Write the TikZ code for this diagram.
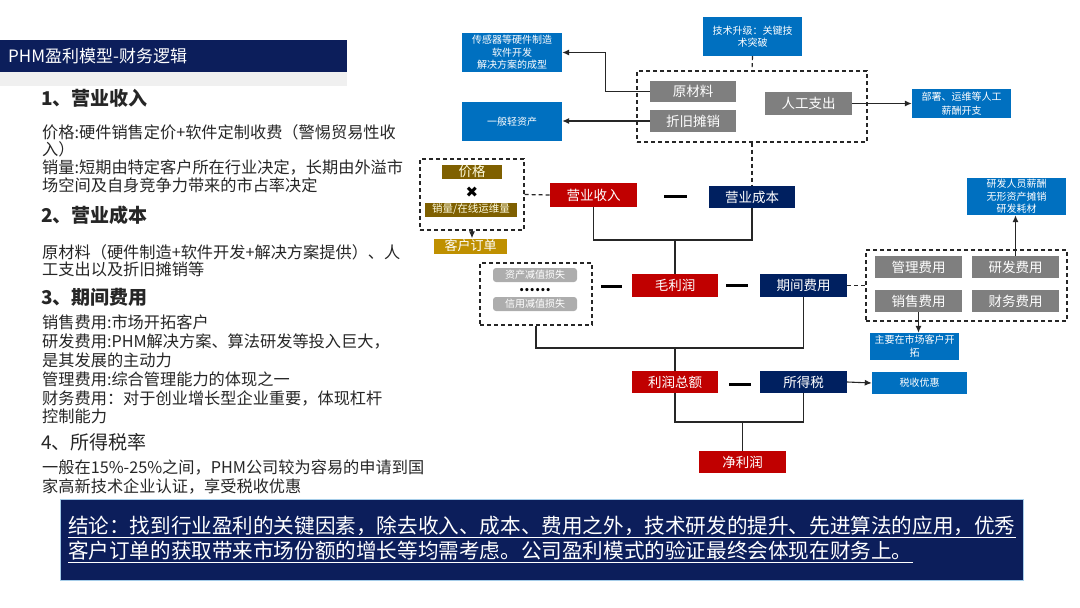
\documentclass[tikz,border=0pt]{standalone}
\usepackage{fontspec}
\setmainfont{Noto Sans CJK SC}
\newfontfamily\dejavu{DejaVu Sans}
\usetikzlibrary{arrows.meta}
\definecolor{navy}{HTML}{002060}
\definecolor{deepnavy}{HTML}{0C1E5B}
\definecolor{profit}{HTML}{C00000}
\definecolor{costgray}{HTML}{7F7F7F}
\definecolor{note}{HTML}{0070C0}
\definecolor{pricebrown}{HTML}{7F6000}
\definecolor{gold}{HTML}{BF9000}
\definecolor{lossgray}{HTML}{ADADAD}
\definecolor{ink}{HTML}{262626}
\newcommand{\fsz}[2]{\fontsize{#1}{#2}\selectfont}
\tikzset{
    box/.style={minimum width=87pt, minimum height=22pt, inner sep=0pt, text=white, font=\fsz{13.5}{16}}, % coloured boxes
    redbox/.style={box, fill=profit},
    navybox/.style={box, fill=navy},
    graybox/.style={box, fill=costgray},
    notebox/.style={fill=note, text=white, inner sep=0pt, align=center, font=\fsz{10}{12.5}},
    groupbox/.style={draw=ink, dashed, dash pattern=on 4pt off 3pt, line width=1.2pt},
    link/.style={draw=black!85, line width=1.1pt},
    arrow/.style={link, -{Latex[length=7pt, width=6pt]}},
    minus/.style={line width=3pt},
    heading/.style={anchor=west, inner sep=0pt, text=ink, font=\fsz{19}{22}\bfseries},
    body/.style={anchor=north west, inner sep=0pt, text=ink, align=left},
}
\begin{document}
\begin{tikzpicture}[x=1pt, y=-1pt]
\useasboundingbox (0,0) rectangle (1080,608);

    % --- Title bar ---
    \fill[gray!12] (0,72) rectangle (347,86);
    \node[fill=deepnavy, minimum width=347pt, minimum height=32pt, inner sep=0pt] (titlebar) at (173.5,56) {};
    \node[anchor=west, text=white, font=\fsz{17}{20}, inner sep=0pt] (title) at (8,56) {PHM盈利模型-财务逻辑};

    % --- Left column text ---
    \node[heading] (h1) at (41,98) {1、营业收入};
    \node[body, font=\fsz{16.2}{17.8}] (p1) at (42,124) {价格:硬件销售定价+软件定制收费（警惕贸易性收\\入）\\销量:短期由特定客户所在行业决定，长期由外溢市\\场空间及自身竞争力带来的市占率决定};
    \node[heading] (h2) at (41,215) {2、营业成本};
    \node[body, font=\fsz{16.2}{17}] (p2) at (42,244) {原材料（硬件制造+软件开发+解决方案提供）、人\\工支出以及折旧摊销等};
    \node[heading] (h3) at (41,297) {3、期间费用};
    \node[body, font=\fsz{16.2}{18.8}] (p3) at (42,315) {销售费用:市场开拓客户\\研发费用:PHM解决方案、算法研发等投入巨大，\\是其发展的主动力\\管理费用:综合管理能力的体现之一\\财务费用：对于创业增长型企业重要，体现杠杆\\控制能力};
    \node[heading, font=\fsz{19}{22}] (h4) at (41,442) {4、所得税率};
    \node[body, font=\fsz{16.2}{19}] (p4) at (42,460) {一般在15\%-25\%之间，PHM公司较为容易的申请到国\\家高新技术企业认证，享受税收优惠};

    % --- Dashed groups ---
    \node[groupbox, minimum width=230pt, minimum height=71pt] (costgrp) at (752,106.5) {};
    \node[groupbox, minimum width=104pt, minimum height=71pt] (pricegrp) at (472,194.5) {};
    \node[groupbox, minimum width=112pt, minimum height=62pt] (lossgrp) at (536,294) {};
    \node[groupbox, minimum width=201pt, minimum height=71pt] (expgrp) at (966.5,285.5) {};

    % --- Cost side (top) ---
    \node[notebox, minimum width=99pt, minimum height=39pt] (tech) at (752.5,36.5) {技术升级：关键技\\术突破};
    \node[notebox, minimum width=100pt, minimum height=39pt] (sensor) at (512,52.5) {传感器等硬件制造\\软件开发\\解决方案的成型};
    \node[notebox, minimum width=100pt, minimum height=39pt] (light) at (512,121.5) {一般轻资产};
    \node[graybox, minimum width=86pt, minimum height=21pt] (raw) at (693,91.5) {原材料};
    \node[graybox, minimum width=86pt] (depr) at (693,121) {折旧摊销};
    \node[graybox, minimum height=23pt] (wage) at (808.5,103.5) {人工支出};
    \node[notebox, minimum width=99pt, minimum height=29pt, font=\fsz{10}{13.5}] (labor) at (961.5,103.5) {部署、运维等人工\\薪酬开支};

    % --- Revenue side ---
    \node[box, fill=pricebrown, text=white!88!yellow, minimum width=60pt, minimum height=14pt] (price) at (472,171.5) {价格};
    \node[inner sep=0pt, font=\dejavu\fsz{15}{15}] (times) at (472,192) {✖};
    \node[box, fill=pricebrown, text=white!88!yellow, minimum width=92pt, minimum height=14pt, font=\fsz{10.5}{12}] (volume) at (471,209.5) {销量/在线运维量};
    \node[box, fill=gold, minimum width=73pt, minimum height=15pt, font=\fsz{13}{15}] (order) at (470.5,246) {客户订单};

    % --- Main chain ---
    \node[redbox, minimum height=24pt] (revenue) at (593.5,195) {营业收入};
    \node[navybox, minimum width=86pt] (cost) at (752,197) {营业成本};
    \node[redbox, minimum width=86pt, minimum height=23pt] (gross) at (675,285.5) {毛利润};
    \node[navybox, minimum height=23pt] (period) at (803.5,285.5) {期间费用};
    \node[redbox, minimum width=86pt] (total) at (675,382) {利润总额};
    \node[navybox] (tax) at (803.5,382) {所得税};
    \node[redbox] (net) at (742.5,462) {净利润};
    \node[notebox, minimum width=95pt, minimum height=22pt] (taxcut) at (919.5,383) {税收优惠};

    % --- Impairment losses ---
    \node[box, fill=lossgray, rounded corners=3pt, minimum width=84pt, minimum height=14pt, font=\fsz{10}{12}] (assetloss) at (535,275) {资产减值损失};
    \node[inner sep=0pt, font=\fsz{15}{15}\bfseries] (dots) at (535,290) {......};
    \node[box, fill=lossgray, rounded corners=3pt, minimum width=84pt, minimum height=14pt, font=\fsz{10}{12}] (creditloss) at (535,304) {信用减值损失};

    % --- Period expenses ---
    \node[graybox] (admin) at (918.5,267) {管理费用};
    \node[graybox] (rnd) at (1015.5,267) {研发费用};
    \node[graybox] (sales) at (918.5,301) {销售费用};
    \node[graybox] (finance) at (1015.5,301) {财务费用};
    \node[notebox, minimum width=99pt, minimum height=37pt] (rndnote) at (1016.5,196.5) {研发人员薪酬\\无形资产摊销\\研发耗材};
    \node[notebox, minimum width=89pt, minimum height=27pt, font=\fsz{10}{13}] (salesnote) at (914.5,346.5) {主要在市场客户开\\拓};

    % --- Junctions ---
    \coordinate (j1) at (675,240);
    \coordinate (j2) at (675,348);
    \coordinate (j3) at (742.5,422);

    % --- Connectors ---
    \draw[arrow] (raw.west) -- ++(-44,0) |- (sensor.east);
    \draw[arrow] (depr.west) -- (depr.west -| light.east);
    \draw[arrow] (wage.east) -- (labor.west);
    \draw[groupbox] (tech.south) -- (costgrp.north);
    \draw[groupbox] (costgrp.south) -- (cost.north);
    \draw[groupbox] (pricegrp.east) -- (revenue.west);
    \draw[arrow] (pricegrp.south) -- (pricegrp.south |- order.north);
    \draw[link] (revenue.south) |- (j1) -| (cost.south);
    \draw[link] (j1) -- (gross.north);
    \draw[link] (lossgrp.south) |- (j2) -| (period.south);
    \draw[link] (j2) -- (total.north);
    \draw[groupbox] (period.east) -- (expgrp.west);
    \draw[link] (total.south) |- (j3) -| (tax.south);
    \draw[link] (j3) -- (net.north);
    \draw[arrow] (tax.east) -- (taxcut.west);
    \draw[arrow] (rnd.north) -- (rnd.north |- rndnote.south);
    \draw[arrow] (sales.south) -- (sales.south |- salesnote.north);

    % --- Minus signs ---
    \draw[minus] (664,196) -- (687,196);
    \draw[minus] (601,286) -- (622,286);
    \draw[minus] (726,285) -- (748,285);
    \draw[minus] (729,384) -- (751,384);

    % --- Conclusion ---
    \node[fill=deepnavy, draw=note!35!white, line width=0.8pt, minimum width=963pt, minimum height=81pt,
          inner xsep=8pt, text width=947pt, align=left, text=white, font=\fsz{20.6}{25}] (conclusion) at (541.5,539.5)
        {\underline{结论：找到行业盈利的关键因素，除去收入、成本、费用之外，技术研发的提升、先进算法的应用，优秀}\\
         \underline{客户订单的获取带来市场份额的增长等均需考虑。公司盈利模式的验证最终会体现在财务上。}};
\end{tikzpicture}
\end{document}
